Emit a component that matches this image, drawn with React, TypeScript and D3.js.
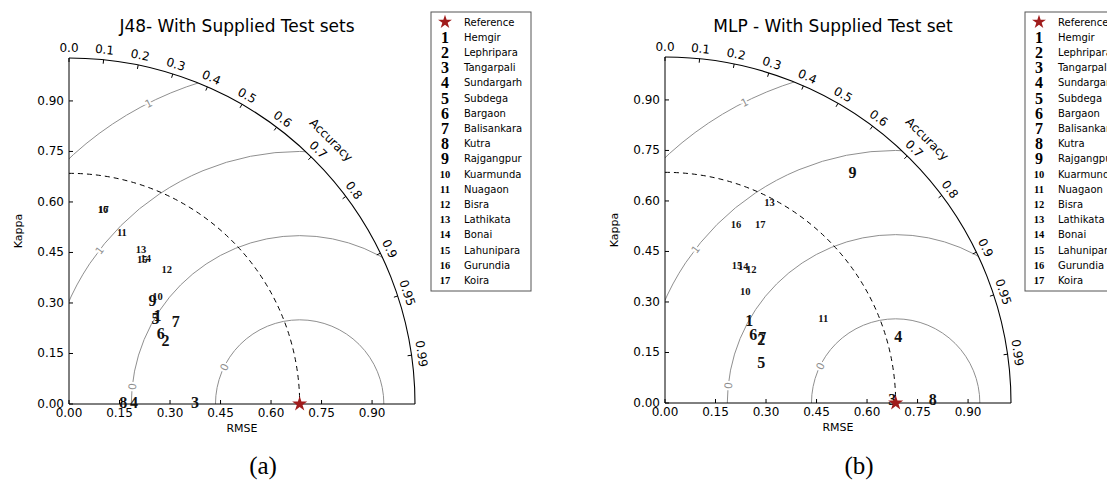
import React, { useEffect } from "react";
import * as d3 from "d3";

// station names, shared by both panels
const stations = [
  "Hemgir", "Lephripara", "Tangarpali", "Sundargarh", "Subdega", "Bargaon",
  "Balisankara", "Kutra", "Rajgangpur", "Kuarmunda", "Nuagaon", "Bisra",
  "Lathikata", "Bonai", "Lahunipara", "Gurundia", "Koira",
];

const refStd = 0.685;
const rmseLevels = [0.25, 0.5, 0.75, 1.0];
const rmseLevelLabels = ["0", "0", "1", "1"];
const rmseLabelAngles = [154, 174, 142.5, 116.7]; // deg, around the reference
const accuracyTicks = [0, 0.1, 0.2, 0.3, 0.4, 0.5, 0.6, 0.7, 0.8, 0.9, 0.95, 0.99];
const axisTicks = [0, 0.15, 0.3, 0.45, 0.6, 0.75, 0.9];

// J48 (a): radius (std) and accuracy (cos of angle)
const j48Std = [0.371, 0.344, 0.374, 0.193, 0.362, 0.344, 0.401, 0.161, 0.394,
  0.413, 0.534, 0.494, 0.505, 0.489, 0.481, 0.585, 0.586];
const j48Acc = [0.709, 0.834, 0.9999, 0.9997, 0.71, 0.791, 0.79, 0.9995, 0.63,
  0.637, 0.294, 0.587, 0.424, 0.466, 0.452, 0.173, 0.175];

// MLP (b)
const mlpStd = [0.351, 0.342, 0.675, 0.72, 0.31, 0.331, 0.349, 0.795, 0.883,
  0.409, 0.532, 0.472, 0.671, 0.467, 0.461, 0.57, 0.601];
const mlpAcc = [0.712, 0.836, 0.9999, 0.962, 0.923, 0.792, 0.828, 0.9999, 0.631,
  0.582, 0.883, 0.543, 0.462, 0.497, 0.464, 0.37, 0.471];

const rMax = 1.5 * refStd;
const rs = d3.scaleLinear().domain([0, rMax]).range([0, 346]);
const fmt2 = d3.format(".2f");
const starPath = d3.symbol(d3.symbolStar, 70)() as string;
const starSmall = d3.symbol(d3.symbolStar, 60)() as string;

const sans = "'DejaVu Sans', sans-serif";
const serif = "'Liberation Serif', serif";

function TaylorPanel({ id, title, std, acc, ox, oy, legendX, tag }) {
  const R = rs(rMax);
  const refX = ox + rs(refStd);
  const clip = d3.arc()({
    innerRadius: 0, outerRadius: R, startAngle: 0, endAngle: Math.PI / 2,
  } as any);
  const rr = rs(refStd);
  const rowY = (i) => 22 + i * 15.2;

  return (
    <g>
      <defs>
        <clipPath id={id}>
          <path d={clip} transform={`translate(${ox},${oy})`} />
        </clipPath>
      </defs>
      <text x={(ox + ox + R) / 2 - 5} y={32} textAnchor="middle" fontFamily={sans} fontSize={17}>
        {title}
      </text>

      {/* rmse contours around the reference */}
      <g clipPath={`url(#${id})`}>
        {rmseLevels.map((l) => (
          <circle key={l} cx={refX} cy={oy} r={rs(l)} fill="none" stroke="#8f8f8f" strokeWidth={1} />
        ))}
      </g>
      {rmseLevels.map((l, i) => {
        const a = (rmseLabelAngles[i] * Math.PI) / 180;
        const x = refX + rs(l) * Math.cos(a);
        const y = oy - rs(l) * Math.sin(a);
        return (
          <text key={l} x={x} y={y} transform={`rotate(${-(rmseLabelAngles[i] - 90)},${x},${y})`}
            textAnchor="middle" dominantBaseline="central" fontFamily={sans} fontSize={10.5}
            fill="#8f8f8f" stroke="#fff" strokeWidth={4} paintOrder="stroke">
            {rmseLevelLabels[i]}
          </text>
        );
      })}

      {/* reference std arc */}
      <path d={`M${ox},${oy - rr} A${rr},${rr} 0 0 1 ${ox + rr},${oy}`} fill="none"
        stroke="#000" strokeWidth={1} strokeDasharray="5,4" />

      {/* frame */}
      <path d={`M${ox},${oy - R} A${R},${R} 0 0 1 ${ox + R},${oy}`} fill="none" stroke="#000" strokeWidth={1.1} />
      <line x1={ox} y1={oy} x2={ox} y2={oy - R} stroke="#000" />
      <line x1={ox} y1={oy} x2={ox + R} y2={oy} stroke="#000" />

      {/* accuracy ticks on the arc */}
      {accuracyTicks.map((v) => {
        const t = Math.acos(v);
        const c = Math.cos(t), s = Math.sin(t);
        const lx = ox + (R + 10) * c, ly = oy - (R + 10) * s;
        return (
          <g key={v}>
            <line x1={ox + R * c} y1={oy - R * s} x2={ox + (R - 4) * c} y2={oy - (R - 4) * s} stroke="#000" />
            <text x={lx} y={ly} transform={`rotate(${90 - (t * 180) / Math.PI},${lx},${ly})`}
              textAnchor="middle" dominantBaseline="central" fontFamily={sans} fontSize={12}>
              {v === 0 ? "0.0" : String(v)}
            </text>
          </g>
        );
      })}
      {(() => {
        const t = (45.2 * Math.PI) / 180;
        const x = ox + (R + 26) * Math.cos(t), y = oy - (R + 26) * Math.sin(t);
        return (
          <text x={x} y={y} transform={`rotate(${90 - 45.2},${x},${y})`} textAnchor="middle"
            dominantBaseline="central" fontFamily={sans} fontSize={12}>Accuracy</text>
        );
      })()}

      {/* x and y axes */}
      {axisTicks.map((v) => (
        <g key={v}>
          <line x1={ox + rs(v)} y1={oy} x2={ox + rs(v)} y2={oy - 4} stroke="#000" />
          <text x={ox + rs(v)} y={oy + 13} textAnchor="middle" fontFamily={sans} fontSize={12}>{fmt2(v)}</text>
          <line x1={ox} y1={oy - rs(v)} x2={ox + 4} y2={oy - rs(v)} stroke="#000" />
          <text x={ox - 5} y={oy - rs(v)} textAnchor="end" dominantBaseline="central" fontFamily={sans} fontSize={12}>{fmt2(v)}</text>
        </g>
      ))}
      <text x={ox + R / 2} y={oy + 28} textAnchor="middle" fontFamily={sans} fontSize={11}>RMSE</text>
      <text x={ox - 51} y={oy - R / 2} transform={`rotate(-90,${ox - 51},${oy - R / 2})`}
        textAnchor="middle" dominantBaseline="central" fontFamily={sans} fontSize={11}>Kappa</text>

      {/* stations */}
      {std.map((r, i) => {
        const x = ox + rs(r * acc[i]);
        const y = oy - rs(r * Math.sqrt(1 - acc[i] * acc[i]));
        return (
          <text key={i} x={x} y={y} textAnchor="middle" dominantBaseline="central"
            fontFamily={serif} fontWeight="bold" fontSize={i < 9 ? 16 : 10.5} fill="#111">
            {i + 1}
          </text>
        );
      })}
      <path d={starPath} transform={`translate(${refX},${oy})`} fill="#a01c1c" />

      {/* legend */}
      <rect x={legendX} y={12} width={100} height={279} fill="#fff" stroke="#555" />
      <path d={starSmall} transform={`translate(${legendX + 14},${rowY(0)})`} fill="#a01c1c" />
      <text x={legendX + 33} y={rowY(0)} dominantBaseline="central" fontFamily={sans} fontSize={10}>Reference</text>
      {stations.map((s, i) => (
        <g key={s}>
          <text x={legendX + 14} y={rowY(i + 1)} textAnchor="middle" dominantBaseline="central"
            fontFamily={serif} fontWeight="bold" fontSize={i < 9 ? 16 : 10.5}>{i + 1}</text>
          <text x={legendX + 33} y={rowY(i + 1)} dominantBaseline="central" fontFamily={sans} fontSize={10}>{s}</text>
        </g>
      ))}

      <text x={ox + 194} y={474} textAnchor="middle" fontFamily={serif} fontSize={25}>{tag}</text>
    </g>
  );
}

export default function App() {
  useEffect(() => {
    document.body.style.margin = "0";
    document.body.style.overflow = "hidden";
  }, []);
  return (
    <svg width={1107} height={491} style={{ position: "absolute", left: 0, top: 0, background: "#fff" }}>
      <TaylorPanel id="clipA" title="J48- With Supplied Test sets" std={j48Std} acc={j48Acc}
        ox={69} oy={404} legendX={431} tag="(a)" />
      <TaylorPanel id="clipB" title="MLP - With Supplied Test set" std={mlpStd} acc={mlpAcc}
        ox={665} oy={403} legendX={1025} tag="(b)" />
    </svg>
  );
}
